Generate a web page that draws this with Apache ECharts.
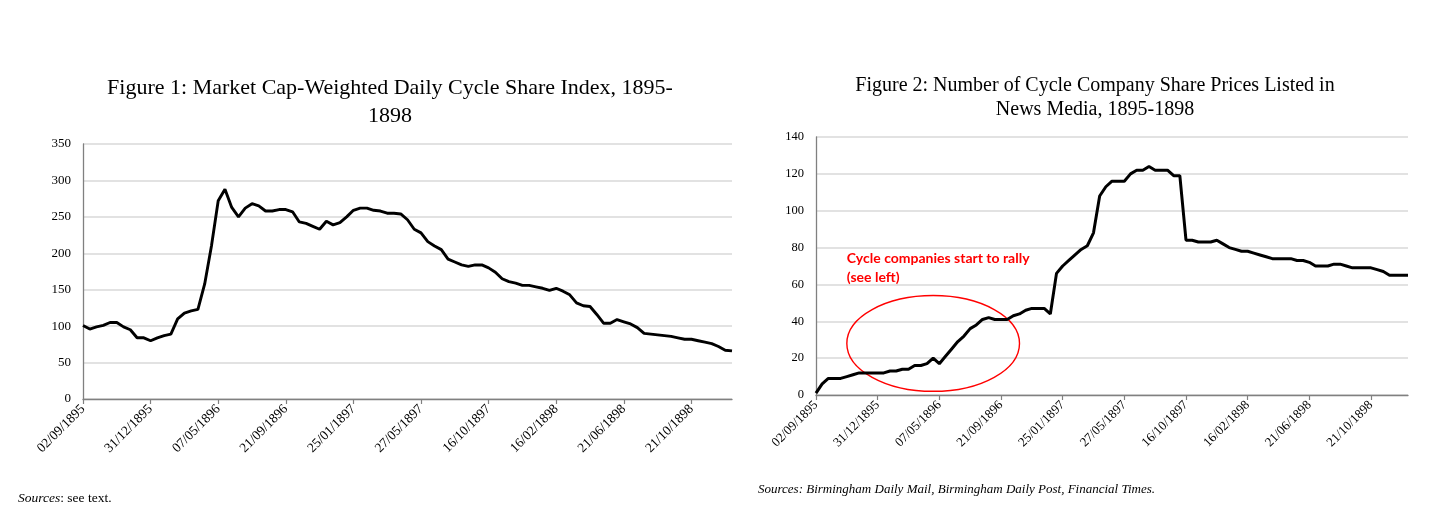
<!DOCTYPE html>
<html>
<head>
<meta charset="utf-8">
<script src="https://cdn.jsdelivr.net/npm/echarts@6/dist/echarts.min.js"></script>
<style>
html,body{margin:0;padding:0;background:#ffffff;}
#c{width:1430px;height:529px;}
</style>
</head>
<body>
<div id="c"></div>
<script>
// ---- data ----
const tickLabels = ['02/09/1895','31/12/1895','07/05/1896','21/09/1896','25/01/1897','27/05/1897','16/10/1897','16/02/1898','21/06/1898','21/10/1898'];
const POINTS_PER_TICK = 10;

// Figure 1: market cap-weighted daily cycle share index (sampled ~10 points per tick interval)
const indexValues = [
  101, 96, 99,101,105,105, 99, 95, 84, 84,
   80, 84, 87, 89,110,118,121,123,158,210,
  272,288,263,250,262,268,265,258,258,260,
  260,257,243,241,237,233,244,239,242,250,
  259,262,262,259,258,255,255,254,246,233,
  228,216,210,205,192,188,184,182,184,184,
  180,174,165,161,159,156,156,154,152,149,
  152,148,143,132,128,127,116,104,104,109,
  106,103, 98, 90, 89, 88, 87, 86, 84, 82,
   82, 80, 78, 76, 72, 67, 66
];

// Figure 2: number of cycle company share prices listed in news media
const listedCounts = [
    1,  6,  9,  9,  9, 10, 11, 12, 12, 12,
   12, 12, 13, 13, 14, 14, 16, 16, 17, 20,
   17, 21, 25, 29, 32, 36, 38, 41, 42, 41,
   41, 41, 43, 44, 46, 47, 47, 47, 44, 66,
   70, 73, 76, 79, 81, 88,108,113,116,116,
  116,120,122,122,124,122,122,122,119,119,
   84, 84, 83, 83, 83, 84, 82, 80, 79, 78,
   78, 77, 76, 75, 74, 74, 74, 74, 73, 73,
   72, 70, 70, 70, 71, 71, 70, 69, 69, 69,
   69, 68, 67, 65, 65, 65, 65
];

const title1 = 'Figure 1: Market Cap-Weighted Daily Cycle Share Index, 1895-\n1898';
const title2 = 'Figure 2: Number of Cycle Company Share Prices Listed in\nNews Media, 1895-1898';
const annotationText = 'Cycle companies start to rally\n(see left)';
const sources1 = '{i|Sources}: see text.';
const sources2 = 'Sources: Birmingham Daily Mail, Birmingham Daily Post, Financial Times.';

// ---- chart ----
const serif = '"Liberation Serif","Times New Roman",serif';
const chart = echarts.init(document.getElementById('c'));

function isTick(i) { return i % POINTS_PER_TICK === 0; }

function makeXAxis(gridIndex, n, fontSize) {
  return {
    type: 'category', gridIndex: gridIndex, boundaryGap: false,
    data: Array.from({length: n}, (_, i) => String(i)),
    axisLine: {show: true, lineStyle: {color: '#808080', width: 1.3}},
    axisTick: {show: true, interval: isTick, length: 5, lineStyle: {color: '#808080', width: 1.2}},
    axisLabel: {
      interval: isTick, rotate: 45, margin: 8,
      formatter: (v, i) => tickLabels[i / POINTS_PER_TICK] || '',
      fontFamily: serif, fontSize: fontSize, color: '#000'
    },
    splitLine: {show: false}
  };
}
function makeYAxis(gridIndex, max, interval, fontSize) {
  return {
    type: 'value', gridIndex: gridIndex, min: 0, max: max, interval: interval,
    axisLine: {show: true, lineStyle: {color: '#808080', width: 1.3}},
    axisTick: {show: false},
    axisLabel: {fontFamily: serif, fontSize: fontSize, color: '#000', margin: 12},
    splitLine: {show: true, lineStyle: {color: '#d9d9d9', width: 1.5}}
  };
}

chart.setOption({
  animation: false,
  backgroundColor: '#ffffff',
  grid: [
    {left: 83, right: 698, top: 144, bottom: 130},
    {left: 816, right: 22, top: 137, bottom: 134}
  ],
  xAxis: [makeXAxis(0, indexValues.length, 13.5), makeXAxis(1, listedCounts.length, 13)],
  yAxis: [makeYAxis(0, 350, 50, 13), makeYAxis(1, 140, 20, 12.5)],
  series: [
    {type: 'line', xAxisIndex: 0, yAxisIndex: 0, data: indexValues, showSymbol: false,
     lineStyle: {color: '#000', width: 2.9}, silent: true},
    {type: 'line', xAxisIndex: 1, yAxisIndex: 1, data: listedCounts, showSymbol: false,
     lineStyle: {color: '#000', width: 3}, silent: true}
  ]
});

// annotation positions from data coordinates
const ellC = chart.convertToPixel({gridIndex: 1}, [19, 28]);
const ellE = chart.convertToPixel({gridIndex: 1}, [33, 54]);
const txtP = chart.convertToPixel({gridIndex: 1}, [5, 80]);

chart.setOption({
  graphic: [
    {type: 'text', x: 390, y: 74.5, silent: true,
     style: {text: title1, font: '22px ' + serif, fill: '#000', align: 'center', verticalAlign: 'top', lineHeight: 28}},
    {type: 'text', x: 1095, y: 74, silent: true,
     style: {text: title2, font: '20px ' + serif, fill: '#000', align: 'center', verticalAlign: 'top', lineHeight: 24}},
    {type: 'text', x: 18, y: 498, silent: true,
     style: {text: sources1, fontFamily: serif, fontSize: 13.5, fill: '#000', verticalAlign: 'middle',
             rich: {i: {fontFamily: serif, fontSize: 13.5, fontStyle: 'italic', fill: '#000'}}}},
    {type: 'text', x: 758, y: 490, silent: true,
     style: {text: sources2, fontFamily: serif, fontSize: 13, fontStyle: 'italic', fill: '#000', verticalAlign: 'middle'}},
    {type: 'text', x: txtP[0], y: txtP[1] + 1, silent: true,
     style: {text: annotationText, fontFamily: 'Lato, "Liberation Sans", sans-serif', fontSize: 14, fontWeight: 'bold',
             fill: '#ff0000', align: 'left', verticalAlign: 'top', lineHeight: 19}},
    {type: 'ellipse', silent: true,
     shape: {cx: ellC[0], cy: ellC[1], rx: Math.abs(ellE[0] - ellC[0]), ry: Math.abs(ellE[1] - ellC[1])},
     style: {fill: 'none', stroke: '#ff0000', lineWidth: 1.4}}
  ]
});
</script>
</body>
</html>
